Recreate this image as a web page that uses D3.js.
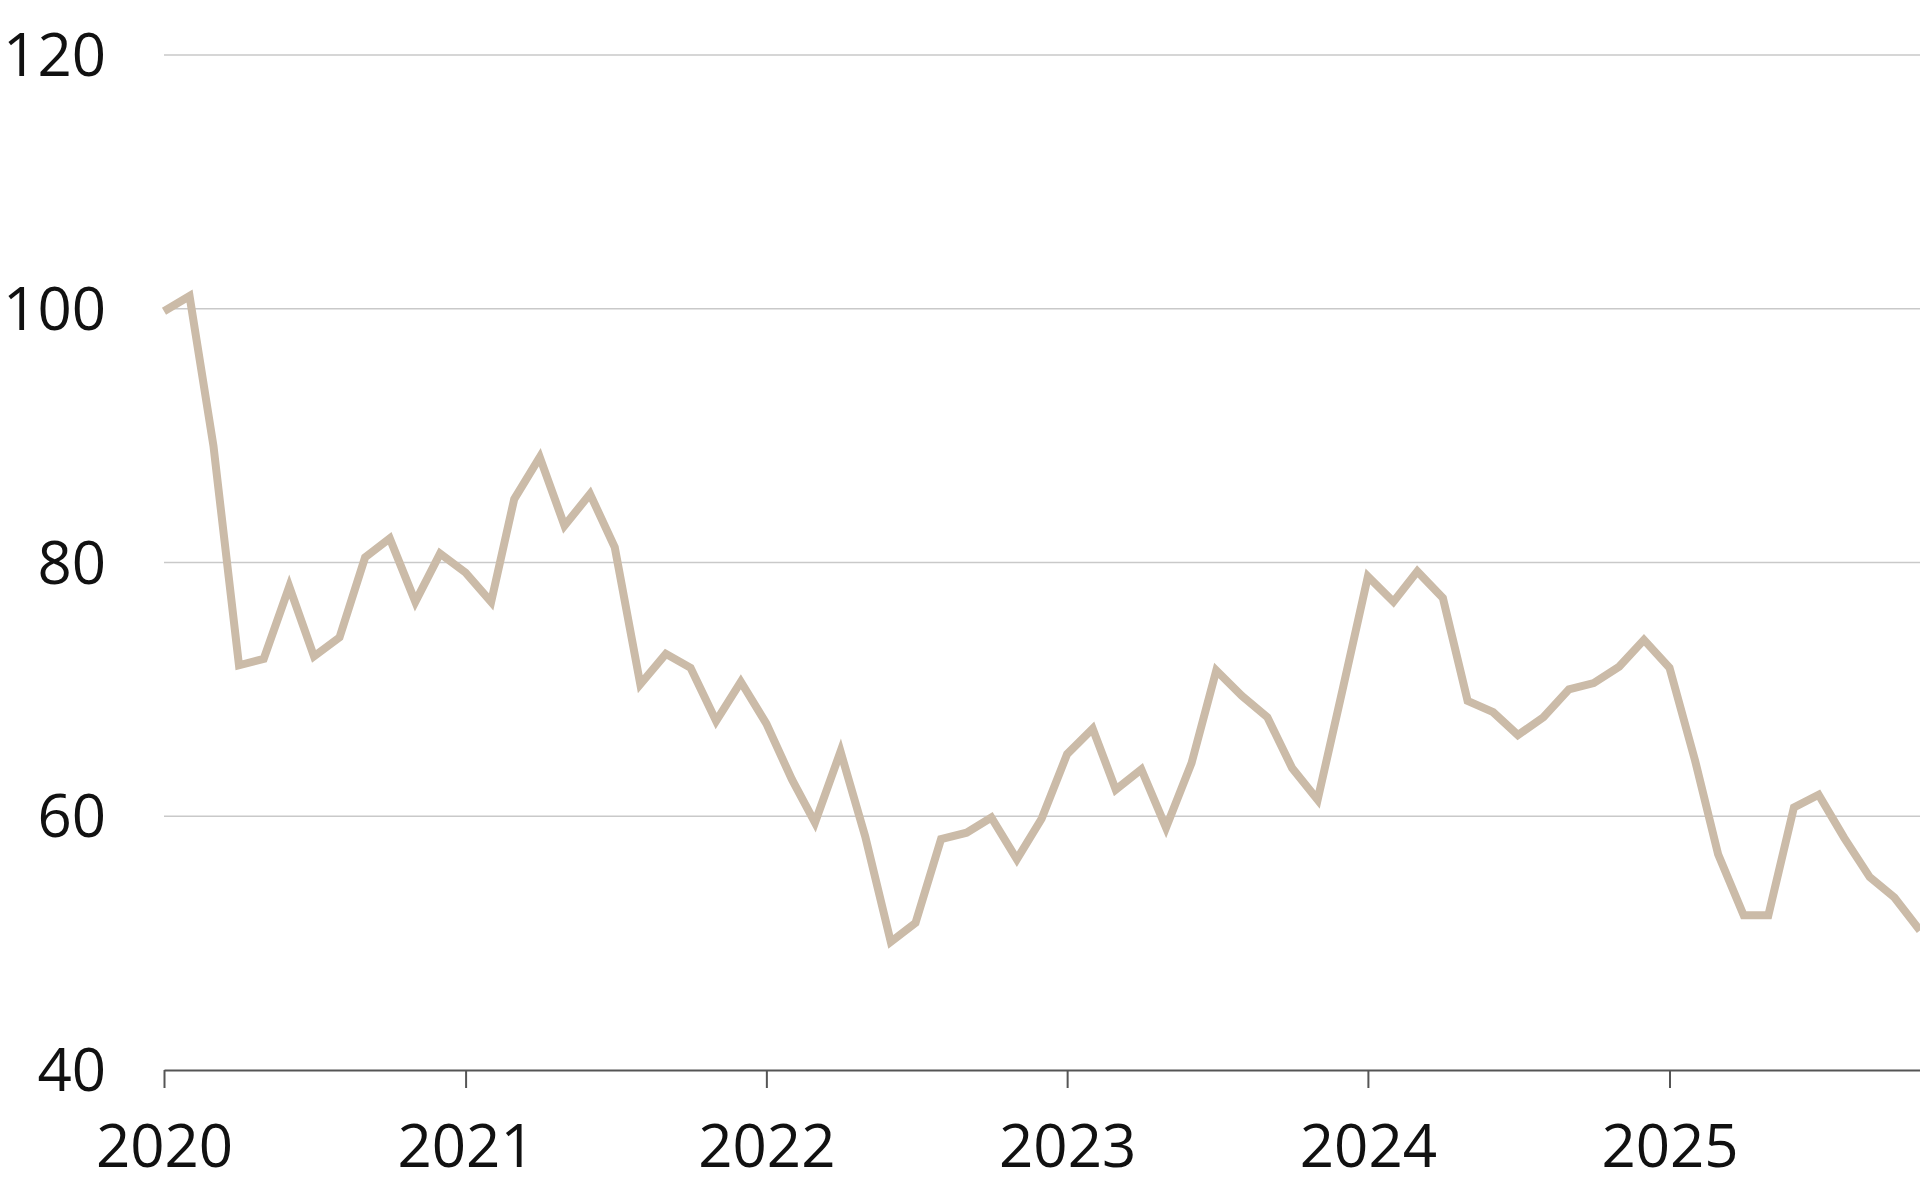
<!DOCTYPE html>
<html>
<head>
<meta charset="utf-8">
<script src="https://cdn.jsdelivr.net/npm/d3@7"></script>
<style>
	html, body { margin: 0; padding: 0; background: #fff; }
	svg { display: block; }
	text { font-family: "Open Sans", "Noto Sans", sans-serif; fill: #111; }
</style>
</head>
<body>
<div class="thegraph"></div>
<script>
// monthly index values, Jan 2020 .. Nov 2025
var startMonth = new Date(2020, 0, 1);
var values = [
	99.8, 101.0, 89.2, 71.9, 72.4, 78.1, 72.6, 74.1, 80.4, 81.9, 76.9, 80.7,
	79.2, 76.9, 85.0, 88.3, 82.9, 85.4, 81.2, 70.4, 72.8, 71.7, 67.5, 70.6,
	67.3, 62.9, 59.5, 65.1, 58.4, 50.1, 51.6, 58.2, 58.7, 59.9, 56.6, 59.8,
	64.9, 66.9, 62.1, 63.7, 59.1, 64.2, 71.5, 69.5, 67.8, 63.8, 61.3, 69.9,
	78.9, 76.9, 79.3, 77.2, 69.1, 68.2, 66.4, 67.8, 70.0, 70.5, 71.8, 73.9,
	71.7, 64.4, 57.0, 52.2, 52.2, 60.7, 61.7, 58.3, 55.2, 53.6, 51.0
];
var yearTicks = [2020, 2021, 2022, 2023, 2024, 2025];
var yTicks = [40, 60, 80, 100, 120];

(function() {
	var w = 1920;
	var h = 1200;
	var left = 164, right = 1920, top = 55, bottom = 1070;

	var data = values.map(function(v, i) {
		return { date: d3.timeMonth.offset(startMonth, i), value: v };
	});

	var svg = d3.select(".thegraph").append("svg")
		.attr("width", w)
		.attr("height", h)
		;

	var x = d3.scaleTime()
		.domain([startMonth, data[data.length - 1].date])
		.range([left, right]);

	var y = d3.scaleLinear()
		.domain([40, 120])
		.range([bottom, top]);

	// gridlines
	svg.append("g")
		.selectAll("line")
		.data(yTicks.filter(function(d) { return d > 40; }))
		.enter()
		.append("line")
		.attr("x1", left)
		.attr("x2", right)
		.attr("y1", function(d) { return y(d); })
		.attr("y2", function(d) { return y(d); })
		.attr("stroke", "#c9c9c9")
		.attr("stroke-width", 1.6)
		;

	// y labels
	svg.append("g")
		.selectAll("text")
		.data(yTicks)
		.enter()
		.append("text")
		.text(function(d) { return d; })
		.attr("x", 106)
		.attr("y", function(d) { return y(d); })
		.attr("dy", "0.35em")
		.attr("text-anchor", "end")
		.attr("font-size", "60px")
		;

	// x axis
	var xAxis = d3.axisBottom(x)
		.tickValues(yearTicks.map(function(d) { return new Date(d, 0, 1); }))
		.tickFormat(d3.timeFormat("%Y"))
		.tickSize(18)
		.tickSizeOuter(0)
		.tickPadding(36);

	var gx = svg.append("g")
		.attr("transform", "translate(0," + bottom + ")")
		.call(xAxis);
	gx.select(".domain").attr("stroke", "#555").attr("stroke-width", 2);
	gx.selectAll(".tick line").attr("stroke", "#555").attr("stroke-width", 2);
	gx.selectAll(".tick text")
		.attr("font-size", "60px")
		.attr("font-family", "'Open Sans', 'Noto Sans', sans-serif")
		.attr("fill", "#111");

	// the series
	var line = d3.line()
		.x(function(d) { return x(d.date); })
		.y(function(d) { return y(d.value); });

	svg.append("path")
		.datum(data)
		.attr("d", line)
		.attr("fill", "none")
		.attr("stroke", "#cbbba8")
		.attr("stroke-width", 8)
		.attr("stroke-linejoin", "miter")
		;
})();
</script>
</body>
</html>
